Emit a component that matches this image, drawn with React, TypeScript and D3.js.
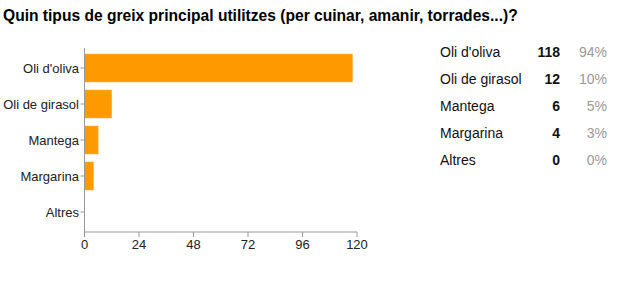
import React from "react";
import * as d3 from "d3";

const categories = ["Oli d'oliva", "Oli de girasol", "Mantega", "Margarina", "Altres"];
const counts = [118, 12, 6, 4, 0];
const percents = ["94%", "10%", "5%", "3%", "0%"];
const xTicks = [0, 24, 48, 72, 96, 120];
const title = "Quin tipus de greix principal utilitzes (per cuinar, amanir, torrades...)?";

const W = 622, H = 286;
const font = "'Liberation Sans', Arial, sans-serif";

export default function App() {
  const x = d3.scaleLinear().domain([0, 120]).range([84.5, 357]);
  const y = d3.scaleBand<string>().domain(categories).range([50, 230]).paddingInner(8 / 36).paddingOuter(4 / 36);
  const rowY = d3.scalePoint<string>().domain(categories).range([52, 160]);
  return (
    <svg width={W} height={H} style={{ position: "absolute", left: 0, top: 0, background: "#fff" }} fontFamily={font}>
      <text x={3} y={21} fontSize={15.6} fontWeight="bold" fill="#000">{title}</text>
      {categories.map((c, i) => (
        <rect key={c} x={x(0)} y={y(c)!} width={Math.max(0, x(counts[i]) - x(0))} height={y.bandwidth()}
          fill="#ff9900" stroke={counts[i] > 0 ? "#ffb84d" : "none"} strokeWidth={0.6} />
      ))}
      <line x1={x(0)} x2={x(0)} y1={48} y2={232} stroke="#999" strokeWidth={1} />
      <line x1={x(0)} x2={x(120)} y1={232} y2={232} stroke="#999" strokeWidth={1} />
      {categories.map((c) => (
        <g key={c}>
          <line x1={x(0) - 4} x2={x(0)} y1={y(c)! + y.bandwidth() / 2} y2={y(c)! + y.bandwidth() / 2} stroke="#999" />
          <text x={79} y={y(c)! + y.bandwidth() / 2 + 4.5} fontSize={13} textAnchor="end" fill="#222">{c}</text>
        </g>
      ))}
      {xTicks.map((t) => (
        <g key={t}>
          <line x1={x(t)} x2={x(t)} y1={232} y2={237} stroke="#999" />
          <text x={x(t)} y={249} fontSize={13} textAnchor="middle" fill="#222">{t}</text>
        </g>
      ))}
      {categories.map((c, i) => (
        <g key={c}>
          <text x={440} y={rowY(c)! + 5} fontSize={14} fill="#111">{c}</text>
          <text x={560} y={rowY(c)! + 5} fontSize={14} fontWeight="bold" textAnchor="end" fill="#111">{counts[i]}</text>
          <text x={607} y={rowY(c)! + 5} fontSize={14} textAnchor="end" fill="#999">{percents[i]}</text>
        </g>
      ))}
    </svg>
  );
}
